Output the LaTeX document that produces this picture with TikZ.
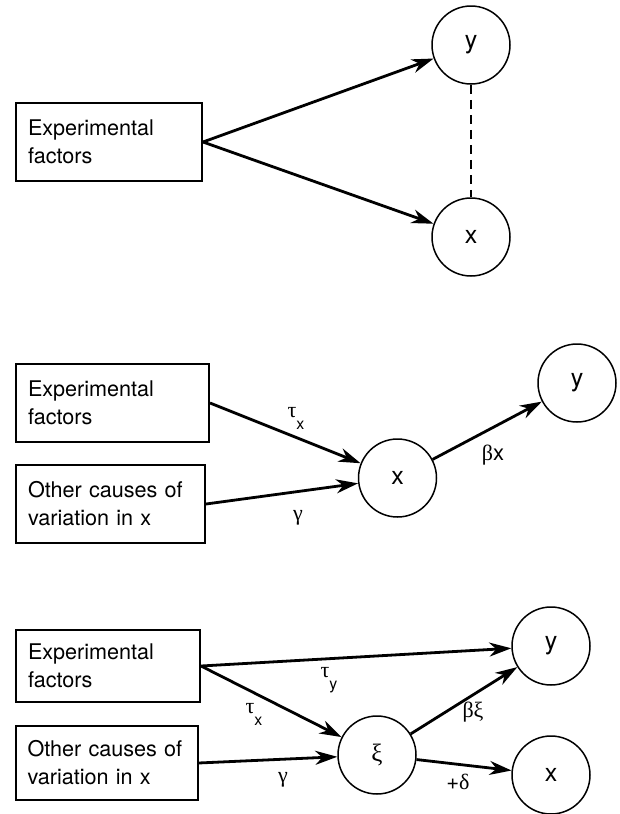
\documentclass[tikz,border=0pt]{standalone}
\usepackage{fontspec}
\setmainfont{TeX Gyre Heros}
\newfontfamily\grk{Liberation Serif}
\usetikzlibrary{arrows.meta}
\newcommand{\sublab}[2]{{\grk #1}\raisebox{-6pt}{\fontsize{8}{8}\selectfont #2}}

\tikzset{
	factor/.style={draw, line width=1pt, align=left, inner xsep=6pt, inner ysep=0pt,
		text width=#1, minimum height=39pt, font=\fontsize{10.8}{14}\selectfont},
	factor/.default=81pt,
	var/.style={draw, circle, line width=0.75pt, minimum size=39pt, inner sep=0pt,
		font=\fontsize{12.5}{12.5}\selectfont},
	effect/.style={line width=1.4pt, -{Stealth[length=11pt,width=7pt,inset=3.5pt]}},
	lab/.style={inner sep=0pt, font=\fontsize{11}{11}\selectfont}
}

\begin{document}
\begin{tikzpicture}[x=0.5pt, y=-0.5pt]
		\useasboundingbox (0,0) rectangle (620,814);
		
		%%%%% TOP %%%%%
		
		\node[factor=81pt] (exp1) at (109,142) {Experimental\\factors};
		\node[var] (y1) at (471,45) {y};
		\node[var] (x1) at (471,237) {x};
		
		\draw[effect] (exp1.east) -- (y1);
		\draw[effect] (exp1.east) -- (x1);
		\draw[line width=0.7pt, dash pattern=on 4.5pt off 3pt] (y1) -- (x1);
		
		%%%%% MIDDLE %%%%%
		
		\node[factor=84.5pt] (exp2) at (112.5,403) {Experimental\\factors};
		\node[factor=82.5pt] (oth2) at (110.5,504) {Other causes of\\variation in x};
		\node[var] (x2) at (397.5,478) {x};
		\node[var] (y2) at (577,383) {y};
		
		\draw[effect] (exp2.east) -- (x2);
		\draw[effect] (oth2.east) -- (x2);
		\draw[effect] (x2) -- (y2);
		
		\node[lab] (tx2) at (296,418) {\sublab{τ}{x}};
		\node[lab] (g2) at (298,518) {{\grk γ}};
		\node[lab] (bx2) at (493,455) {{\grk β}x};
		
		%%%%% BOTTOM %%%%%
		
		\node[factor=80pt, minimum height=36pt] (exp3) at (108,666) {Experimental\\factors};
		\node[factor=79pt, minimum height=37pt] (oth3) at (106.5,763) {Other causes of\\variation in x};
		\node[var] (xi3) at (377,755) {\grk ξ};
		\node[var] (y3) at (551,646) {y};
		\node[var] (x3) at (551,775) {x};
		
		\draw[effect] (exp3.east) -- (y3);
		\draw[effect] (exp3.east) -- (xi3);
		\draw[effect] (oth3.east) -- (xi3);
		\draw[effect] (xi3) -- (y3);
		\draw[effect] (xi3) -- (x3);
		
		\node[lab] (ty3) at (329,680) {\sublab{τ}{y}};
		\node[lab] (tx3) at (254,714) {\sublab{τ}{x}};
		\node[lab] (g3) at (283,780) {{\grk γ}};
		\node[lab] (bxi3) at (473,712) {{\grk βξ}};
		\node[lab] (d3) at (458,782) {+{\grk δ}};
		
	\end{tikzpicture}
\end{document}
